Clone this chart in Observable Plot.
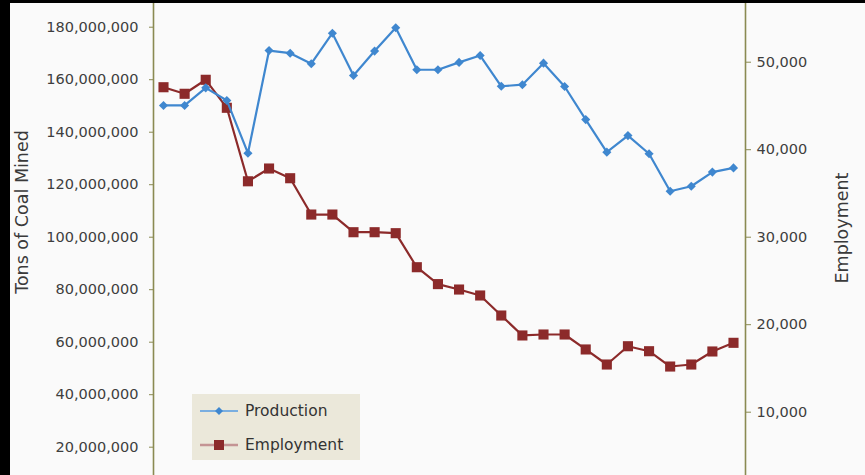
<!DOCTYPE html>
<html>
<head>
<meta charset="utf-8">
<script src="https://cdn.jsdelivr.net/npm/d3@7"></script>
<script src="https://cdn.jsdelivr.net/npm/@observablehq/plot@0.6"></script>
<style>
  html, body { margin: 0; padding: 0; background: #000; overflow: hidden; }
  #wrap { position: relative; width: 865px; height: 475px; background: #000; }
  #chart { position: absolute; left: 10px; top: 3px; }
  .ytitle { position: absolute; font-family: "DejaVu Sans", sans-serif; font-size: 17.5px; color: #3a3a3a;
            white-space: nowrap; transform: translate(-50%, -50%) rotate(-90deg); }
  #legend { position: absolute; left: 192px; top: 394px; width: 168px; height: 66px; background: #ebe8da;
            font-family: "DejaVu Sans", sans-serif; font-size: 15.5px; color: #333; }
  #legend .item { position: absolute; left: 8px; display: flex; align-items: center; height: 20px; }
  #legend svg { margin-right: 7px; }
</style>
</head>
<body>
<div id="wrap">
  <div id="chart"></div>
  <div class="ytitle" style="left:22px; top:212px;">Tons of Coal Mined</div>
  <div class="ytitle" style="left:842px; top:228px;">Employment</div>
  <div id="legend">
    <div class="item" style="top:7px;">
      <svg width="38" height="12"><line x1="0" y1="6" x2="38" y2="6" stroke="#7aaee0" stroke-width="2"/><path d="M19 2 L23 6 L19 10 L15 6 Z" fill="#3f87cf"/></svg>Production</div>
    <div class="item" style="top:41px;">
      <svg width="38" height="12"><line x1="0" y1="6" x2="38" y2="6" stroke="#c49494" stroke-width="2.5"/><rect x="14" y="1" width="10" height="10" fill="#8c2a2a"/></svg>Employment</div>
  </div>
</div>
<script>
const years = [1980,1981,1982,1983,1984,1985,1986,1987,1988,1989,1990,1991,1992,1993,1994,1995,1996,1997,1998,1999,2000,2001,2002,2003,2004,2005,2006,2007];
const production = [150.2,150.2,156.9,152.1,132.0,171.1,170.1,166.1,177.7,161.6,170.9,179.8,163.8,163.8,166.6,169.2,157.5,158.1,166.3,157.4,144.8,132.4,138.7,131.8,117.5,119.4,124.8,126.4].map(v => v * 1e6);
const employment = [47140,46390,47990,44790,36390,37850,36740,32590,32590,30570,30570,30460,26570,24640,24020,23340,21050,18770,18880,18880,17170,15450,17540,16970,15220,15450,16940,17930];
const leftTicks = [20e6,40e6,60e6,80e6,100e6,120e6,140e6,160e6,180e6];
const rightTicks = [10000,20000,30000,40000,50000];

// secondary axis: 0–60,000 shares the frame with 0–200,000,000
const k = 200e6 / 60000;
const prodData = years.map((y, i) => ({year: y, value: production[i]}));
const empData = years.map((y, i) => ({year: y, value: employment[i] * k}));
const fmt = d3.format(",");
const olive = "#8a8a52";

const chart = Plot.plot({
  width: 855,
  height: 472,
  marginLeft: 143,
  marginRight: 120,
  marginTop: 0,
  marginBottom: 0,
  style: {background: "#fafafa", fontFamily: "DejaVu Sans, sans-serif", fontSize: "14.5px", color: "#3e3e3e"},
  x: {domain: [1980, 2007], insetLeft: 10, insetRight: 12, axis: null},
  y: {domain: [9.22e6, 189.03e6], label: null},
  marks: [
    Plot.frame({anchor: "left", stroke: olive, strokeWidth: 1.6}),
    Plot.frame({anchor: "right", stroke: olive, strokeWidth: 1.6}),
    Plot.axisY(leftTicks, {anchor: "left", tickFormat: fmt, tickSize: 4, tickPadding: 11, stroke: olive, fill: "#3e3e3e", label: null}),
    Plot.axisY(rightTicks.map(v => v * k), {anchor: "right", tickFormat: v => fmt(Math.round(v / k)), tickSize: 5, tickPadding: 6, stroke: olive, fill: "#3e3e3e", label: null}),
    Plot.line(empData, {x: "year", y: "value", stroke: "#8c2a2a", strokeWidth: 2.2}),
    Plot.dot(empData, {x: "year", y: "value", symbol: "square", r: 5.7, fill: "#8c2a2a", stroke: "none"}),
    Plot.line(prodData, {x: "year", y: "value", stroke: "#3f87cf", strokeWidth: 2.2}),
    Plot.dot(prodData, {x: "year", y: "value", symbol: "diamond2", r: 4.1, fill: "#3f87cf", stroke: "none"})
  ]
});
document.getElementById("chart").appendChild(chart);
</script>
</body>
</html>
